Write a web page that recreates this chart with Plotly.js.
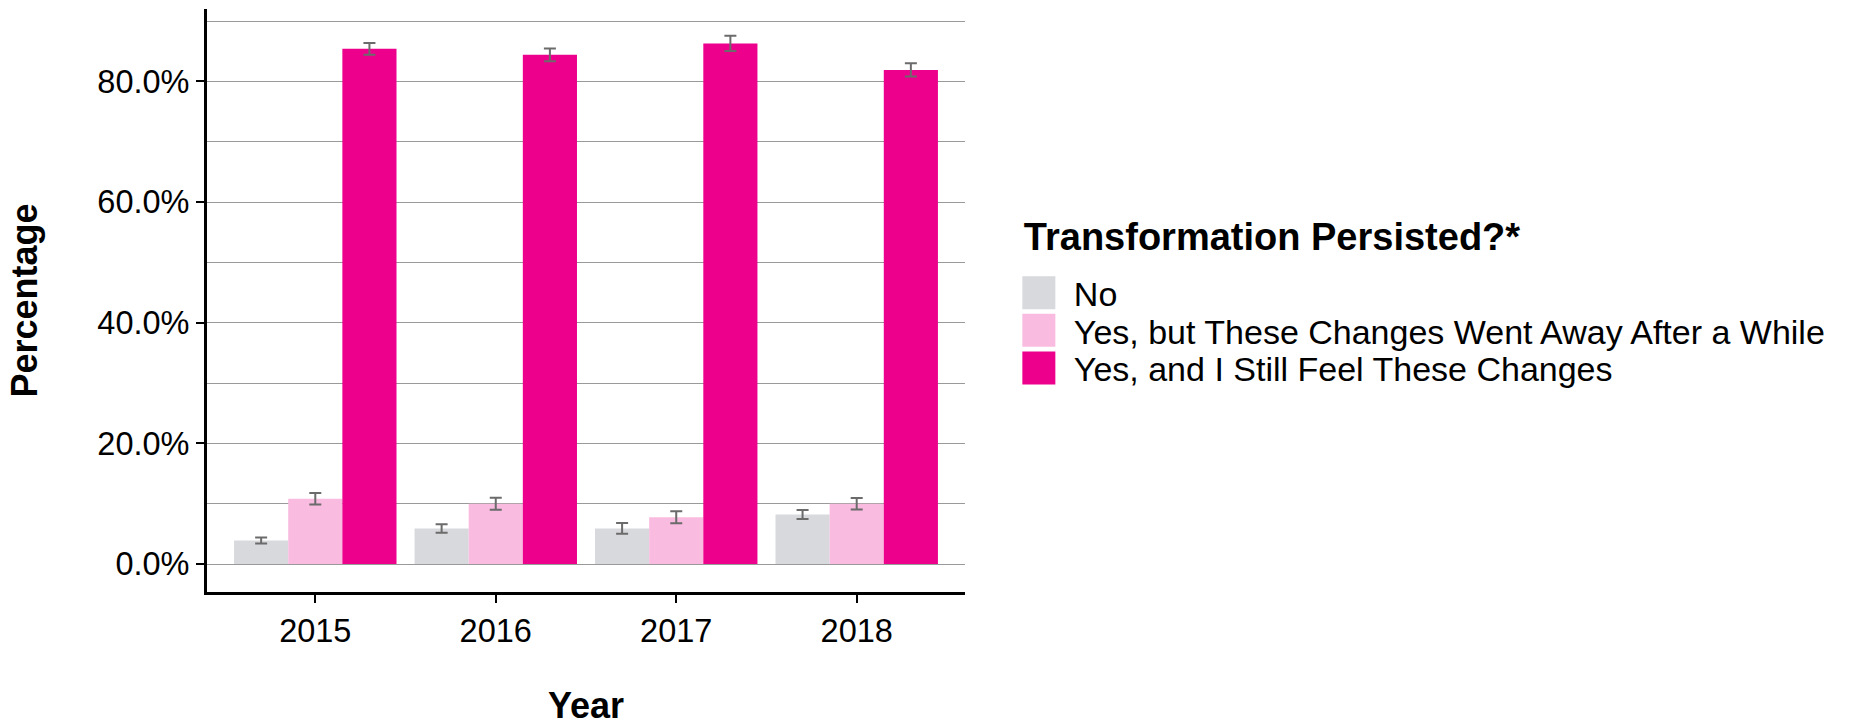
<!DOCTYPE html>
<html>
<head>
<meta charset="utf-8">
<script src="https://cdn.plot.ly/plotly-3.0.1.min.js"></script>
<style>
  html, body { margin: 0; padding: 0; background: #ffffff; }
  #chart { width: 1849px; height: 726px; }
</style>
</head>
<body>
<div id="chart"></div>
<script>
// ---- data (percent) ----
const years = ['2015', '2016', '2017', '2018'];
const seriesNames = [
  'No',
  'Yes, but These Changes Went Away After a While',
  'Yes, and I Still Feel These Changes'
];
const noValues = [3.9, 5.9, 5.9, 8.2];
const noErrors = [0.5, 0.7, 0.9, 0.75];
const awayValues = [10.8, 10.0, 7.75, 10.0];
const awayErrors = [0.95, 1.0, 1.0, 0.95];
const stillValues = [85.4, 84.4, 86.3, 81.9];
const stillErrors = [0.97, 1.05, 1.27, 1.1];
const yTickValues = [0, 20, 40, 60, 80];
const yTickLabels = ['0.0%', '20.0%', '40.0%', '60.0%', '80.0%'];

// ---- style ----
const colors = ['#D8D9DC', '#F9BBE0', '#EC008C'];
const FONT = 'Liberation Sans, Arial, Helvetica, sans-serif';

function barTrace(name, values, errors, color) {
  return {
    type: 'bar',
    name: name,
    x: years,
    y: values,
    marker: { color: color, line: { width: 0 } },
    error_y: { type: 'data', array: errors, visible: true, color: '#6B6B6B', thickness: 2, width: 6 },
    hoverinfo: 'x+y+name'
  };
}

const data = [
  barTrace(seriesNames[0], noValues, noErrors, colors[0]),
  barTrace(seriesNames[1], awayValues, awayErrors, colors[1]),
  barTrace(seriesNames[2], stillValues, stillErrors, colors[2])
];

const layout = {
  width: 1849,
  height: 726,
  paper_bgcolor: '#ffffff',
  plot_bgcolor: '#ffffff',
  margin: { l: 207, r: 884, t: 9, b: 134, pad: 0 },
  barmode: 'group',
  bargap: 0.1,
  bargroupgap: 0,
  font: { family: FONT, size: 32.5, color: '#000000' },
  xaxis: {
    type: 'category',
    range: [-0.6, 3.6],
    showline: true, linecolor: '#000000', linewidth: 3,
    ticks: 'outside', ticklen: 8, tickwidth: 2, tickcolor: '#000000',
    showgrid: false, zeroline: false,
    tickfont: { family: FONT, size: 32.5, color: '#000000' },
    title: { text: 'Year', font: { family: FONT, size: 36, color: '#000000', weight: 'bold' }, standoff: 70 }
  },
  yaxis: {
    range: [-4.64, 92.0],
    tickvals: yTickValues,
    ticktext: yTickLabels,
    showline: true, linecolor: '#000000', linewidth: 3,
    ticks: 'outside', ticklen: 8, tickwidth: 2, tickcolor: '#000000',
    showgrid: false, zeroline: false,
    minor: { dtick: 10, tick0: 0, showgrid: true, gridcolor: '#9A9A9A', gridwidth: 1, ticks: '' },
    tickfont: { family: FONT, size: 32.5, color: '#000000' },
    title: { text: 'Percentage', font: { family: FONT, size: 36, color: '#000000', weight: 'bold' }, standoff: 49 }
  },
  showlegend: true,
  legend: {
    x: 1.075, xanchor: 'left',
    y: 0.672, yanchor: 'top',
    traceorder: 'normal',
    bgcolor: 'rgba(0,0,0,0)',
    borderwidth: 0,
    itemwidth: 42,
    font: { family: FONT, size: 34, color: '#000000' },
    title: { text: 'Transformation Persisted?*', side: 'top', font: { family: FONT, size: 38, color: '#000000', weight: 'bold' } }
  }
};

// Reference legend uses large square keys and tighter rows.
const KEY_HALF = 16.5;
const KEY_DX = -9;
const ROW_STEP = 37.6;
const FIRST_ROW_SHIFT = 14.5;

function tidyLegend(gd) {
  const rows = Array.from(gd.querySelectorAll('g.legend g.traces'));
  if (!rows.length) return;
  let baseY = null;
  rows.forEach(function (g, i) {
    if (!g.dataset.origTransform) g.dataset.origTransform = g.getAttribute('transform') || '';
    const m = /translate\(\s*([-\d.e]+)[ ,]+([-\d.e]+)\s*\)/.exec(g.dataset.origTransform);
    if (!m) return;
    const tx = parseFloat(m[1]);
    const ty = parseFloat(m[2]);
    if (baseY === null) baseY = ty + FIRST_ROW_SHIFT;
    g.setAttribute('transform', 'translate(' + tx + ',' + (baseY + i * ROW_STEP) + ')');
    const l = KEY_DX - KEY_HALF, r = KEY_DX + KEY_HALF;
    g.querySelectorAll('g.legendpoints path').forEach(function (p) {
      p.setAttribute('d', 'M' + r + ',' + KEY_HALF + 'H' + l + 'V-' + KEY_HALF + 'H' + r + 'Z');
    });
  });
}

Plotly.newPlot('chart', data, layout, { displayModeBar: false, staticPlot: true }).then(function (gd) {
  tidyLegend(gd);
  gd.on('plotly_afterplot', function () { tidyLegend(gd); });
  setTimeout(function () { tidyLegend(gd); }, 50);
  setTimeout(function () { tidyLegend(gd); }, 300);
});
</script>
</body>
</html>
